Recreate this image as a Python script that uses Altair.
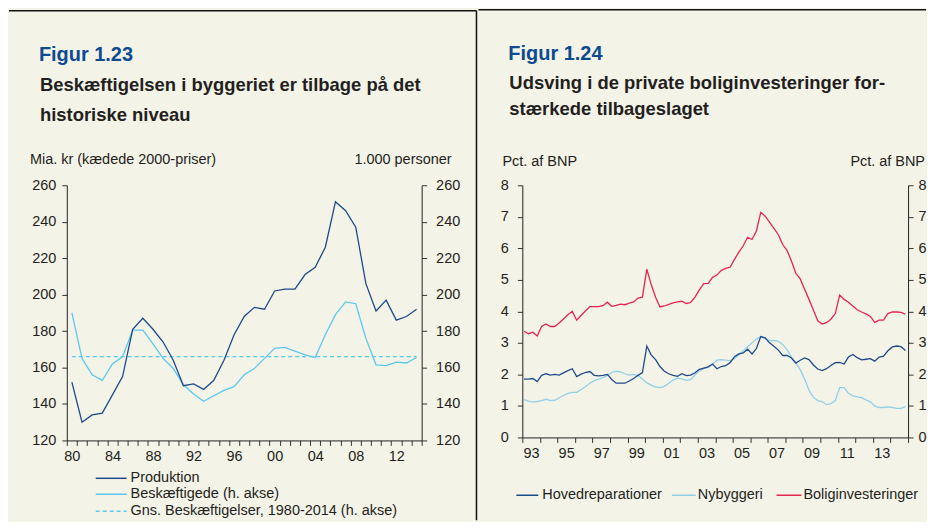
import altair as alt
import pandas as pd

# ---------------- data: Figur 1.23 (annual) ----------------
years = list(range(1980, 2015))
produktion = [152, 130, 134, 135, 145, 155, 181, 187, 181, 174, 164, 150, 151, 148, 153,
              164, 178, 188, 193, 192, 202, 203, 203, 211, 215, 226, 251, 246, 237, 206,
              191, 197, 186, 188, 192]
beskaeftigede = [190, 165, 156, 153, 162, 166, 180.5, 180.5, 173, 165, 159.5, 150.5, 145.5,
                 141.5, 144.5, 147.5, 149.5, 156, 159.5, 165, 170.5, 171, 169, 167, 165.5,
                 178, 189, 196, 195, 176, 161.5, 161, 163, 162.5, 165.5]
gns_beskaeftigelse = 166

# ---------------- data: Figur 1.24 (quarterly 1993K1-2014K4) ----------------
hovedreparationer = [
    1.85, 1.85, 1.87, 1.77, 1.97, 2.02, 1.98, 2.00, 1.98, 2.05, 2.12, 2.18,
    1.93, 2.01, 2.06, 2.09, 1.97, 1.95, 1.97, 2.00, 1.84, 1.72, 1.72, 1.72,
    1.79, 1.87, 1.97, 2.06, 2.90, 2.62, 2.47, 2.25, 2.10, 2.02, 1.97, 1.94,
    2.02, 1.96, 1.98, 2.05, 2.16, 2.20, 2.24, 2.33, 2.18, 2.25, 2.28, 2.37,
    2.56, 2.65, 2.68, 2.80, 2.65, 2.82, 3.20, 3.16, 3.00, 2.89, 2.77, 2.60,
    2.60, 2.52, 2.36, 2.45, 2.52, 2.47, 2.30, 2.17, 2.12, 2.18, 2.28, 2.37,
    2.38, 2.33, 2.55, 2.63, 2.53, 2.46, 2.48, 2.50, 2.42, 2.55, 2.58, 2.75,
    2.87, 2.90, 2.88, 2.76]
nybyggeri = [
    1.20, 1.15, 1.12, 1.14, 1.17, 1.21, 1.17, 1.18, 1.26, 1.33, 1.40, 1.43,
    1.43, 1.52, 1.61, 1.72, 1.80, 1.85, 1.90, 1.97, 2.06, 2.10, 2.08, 2.02,
    1.98, 2.00, 1.96, 1.86, 1.73, 1.66, 1.60, 1.58, 1.62, 1.72, 1.82, 1.88,
    1.86, 1.81, 1.83, 1.98, 2.12, 2.18, 2.22, 2.32, 2.45, 2.47, 2.45, 2.43,
    2.50, 2.62, 2.75, 2.87, 3.00, 3.12, 3.20, 3.13, 3.07, 3.08, 3.05, 2.95,
    2.78, 2.55, 2.35, 2.15, 1.85, 1.50, 1.27, 1.17, 1.14, 1.04, 1.07, 1.17,
    1.58, 1.58, 1.40, 1.32, 1.29, 1.26, 1.19, 1.13, 1.00, 0.95, 0.95, 0.97,
    0.95, 0.92, 0.92, 0.98]
boliginvesteringer = [
    3.37, 3.29, 3.34, 3.22, 3.52, 3.60, 3.52, 3.52, 3.63, 3.76, 3.89, 4.00,
    3.72, 3.87, 4.01, 4.15, 4.15, 4.15, 4.18, 4.29, 4.16, 4.19, 4.23, 4.21,
    4.26, 4.30, 4.42, 4.45, 5.34, 4.85, 4.45, 4.14, 4.17, 4.22, 4.27, 4.30,
    4.32, 4.25, 4.28, 4.45, 4.68, 4.88, 4.89, 5.08, 5.15, 5.30, 5.36, 5.40,
    5.65, 5.88, 6.08, 6.35, 6.28, 6.55, 7.14, 7.02, 6.83, 6.63, 6.43, 6.12,
    5.93, 5.60, 5.20, 5.03, 4.70, 4.38, 4.04, 3.70, 3.60, 3.64, 3.75, 3.93,
    4.52, 4.38, 4.29, 4.17, 4.05, 3.98, 3.92, 3.84, 3.65, 3.72, 3.72, 3.93,
    3.98, 3.98, 3.97, 3.91]

left_ticks = list(range(120, 261, 20))
right_ticks = list(range(0, 9))

# ---------------- style ----------------
FONT = "Liberation Sans"
BG = "#F4F3E8"
DARK = "#1E4A8A"
CYAN = "#5CC8F0"
PALE = "#92D0EA"
RED = "#E5254F"
FIGBLUE = "#0D4A8F"
TXT = "#231F20"

one = pd.DataFrame({"a": [0]})


def txt(s, x, y, size=14.5, weight="normal", color=TXT, align="left", baseline="alphabetic"):
    return alt.Chart(one).mark_text(
        text=s, fontSize=size, fontWeight=weight, color=color, align=align,
        baseline=baseline, font=FONT
    ).encode(x=alt.value(x), y=alt.value(y))


def hline(x1, x2, y, color, width=1.3, dash=None):
    kw = dict(color=color, strokeWidth=width)
    if dash:
        kw["strokeDash"] = dash
    return alt.Chart(one).mark_rule(**kw).encode(
        x=alt.value(x1), x2=alt.value(x2), y=alt.value(y))


def vline(x, y1, y2, color="#111", width=1.5):
    return alt.Chart(one).mark_rule(color=color, strokeWidth=width).encode(
        x=alt.value(x), y=alt.value(y1), y2=alt.value(y2))


def panel_rect(x1, x2, y1, y2):
    return alt.Chart(one).mark_rect(color=BG).encode(
        x=alt.value(x1), x2=alt.value(x2), y=alt.value(y1), y2=alt.value(y2))


axis_common = dict(grid=False, title=None, tickSize=5, tickColor="#333", domainColor="#222",
                   labelFont=FONT, labelFontSize=14.5, labelColor=TXT, labelFlush=False,
                   labelOverlap=False, zindex=1)

# ---------------- left panel ----------------
W1, H1 = 356, 256
dfL = pd.DataFrame({"year": years, "prod": produktion, "emp": beskaeftigede,
                    "avg": [gns_beskaeftigelse] * len(years)})
yscaleL = alt.Scale(domain=[120, 260], nice=False, zero=False)
xL = alt.X("year:Q", scale=alt.Scale(domain=[1979.5, 2014.5], nice=False, zero=False),
           axis=alt.Axis(values=[y - 0.5 for y in range(1980, 2016)],
                         labelExpr="(datum.value + 0.5) % 4 == 0 ? format((datum.value + 0.5) % 100, '02d') : ''",
                         labelOffset=W1 / 35 / 2, labelPadding=4, **axis_common))

prod_line = alt.Chart(dfL).mark_line(color=DARK, strokeWidth=1.3).encode(
    x=xL,
    y=alt.Y("prod:Q", scale=yscaleL,
            axis=alt.Axis(values=left_ticks, orient="left", labelPadding=6, **axis_common)))
emp_line = alt.Chart(dfL).mark_line(color=CYAN, strokeWidth=1.3).encode(
    x=xL,
    y=alt.Y("emp:Q", scale=yscaleL,
            axis=alt.Axis(values=left_ticks, orient="right", labelPadding=9, **axis_common)))
avg_line = alt.Chart(dfL).mark_line(color=CYAN, strokeWidth=1.3, strokeDash=[4, 3]).encode(
    x=xL, y=alt.Y("avg:Q", scale=yscaleL, axis=None))

left = alt.layer(
    panel_rect(-58, 411, -176, 336),
    hline(-58, 411, -175, "#111", 1.5),
    vline(411, -175, 336),
    txt("Figur 1.23", -28, -125, size=20, weight="bold", color=FIGBLUE),
    txt("Beskæftigelsen i byggeriet er tilbage på det", -27, -95, size=18.5, weight="bold"),
    txt("historiske niveau", -27, -64, size=18.5, weight="bold"),
    txt("Mia. kr (kædede 2000-priser)", -37, -21),
    txt("1.000 personer", 386, -21, align="right"),
    avg_line, emp_line, prod_line,
    hline(29, 60, 294, DARK, 1.5),
    hline(29, 60, 310, CYAN, 1.5),
    hline(29, 60, 327, CYAN, 1.5, dash=[4, 3]),
    txt("Produktion", 64, 294, baseline="middle"),
    txt("Beskæftigede (h. akse)", 64, 310, baseline="middle"),
    txt("Gns. Beskæftigelser, 1980-2014 (h. akse)", 64, 327, baseline="middle"),
).resolve_axis(y="independent").properties(width=W1, height=H1)

# ---------------- right panel ----------------
W2, H2 = 387, 253
t = []
for y in range(1993, 2015):
    for q in range(4):
        t.append(y + q / 4 + 0.1)
dfR = pd.DataFrame({"t": t, "hov": hovedreparationer, "ny": nybyggeri, "bol": boliginvesteringer})
yscaleR = alt.Scale(domain=[0, 8], nice=False, zero=False)
xR = alt.X("t:Q", scale=alt.Scale(domain=[1993, 2015], nice=False, zero=False),
           axis=alt.Axis(values=list(range(1993, 2016)),
                         labelExpr="(datum.value % 2 == 1 && datum.value < 2015) ? format(datum.value % 100, '02d') : ''",
                         labelOffset=W2 / 22 / 2, labelPadding=4, **axis_common))

bol_line = alt.Chart(dfR).mark_line(color=RED, strokeWidth=1.3).encode(
    x=xR, y=alt.Y("bol:Q", scale=yscaleR,
                  axis=alt.Axis(values=right_ticks, orient="left", labelPadding=9, **axis_common)))
ny_line = alt.Chart(dfR).mark_line(color=PALE, strokeWidth=1.3).encode(
    x=xR, y=alt.Y("ny:Q", scale=yscaleR,
                  axis=alt.Axis(values=right_ticks, orient="right", labelPadding=5, **axis_common)))
hov_line = alt.Chart(dfR).mark_line(color=DARK, strokeWidth=1.3).encode(
    x=xR, y=alt.Y("hov:Q", scale=yscaleR, axis=None))

right = alt.layer(
    panel_rect(-44, 405, -177, 335),
    hline(-44, 405, -176, "#111", 1.5),
    txt("Figur 1.24", -14, -126, size=20, weight="bold", color=FIGBLUE),
    txt("Udsving i de private boliginvesteringer for-", -13, -97, size=18.5, weight="bold"),
    txt("stærkede tilbageslaget", -13, -70, size=18.5, weight="bold"),
    txt("Pct. af BNP", -20, -19),
    txt("Pct. af BNP", 404, -19, align="right"),
    bol_line, ny_line, hov_line,
    hline(-6, 16, 311, DARK, 1.5),
    hline(150, 174, 311, PALE, 1.5),
    hline(255, 280, 311, RED, 1.5),
    txt("Hovedreparationer", 20, 311, baseline="middle"),
    txt("Nybyggeri", 176, 311, baseline="middle"),
    txt("Boliginvesteringer", 282, 311, baseline="middle"),
).resolve_axis(y="independent").properties(width=W2, height=H2)

chart = alt.hconcat(left, right, spacing=0).properties(
    padding=0, background=BG
).configure_view(stroke=None)

chart.save("out.html", embed_options={"renderer": "svg", "actions": False})
